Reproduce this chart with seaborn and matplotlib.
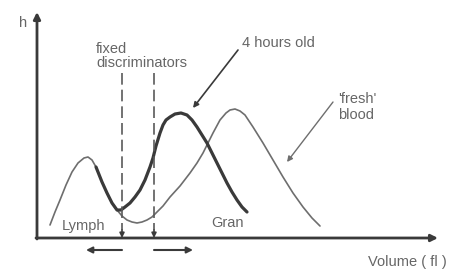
import matplotlib
matplotlib.use("Agg")
import matplotlib.pyplot as plt
import seaborn as sns

# curve values (volume, height)
fresh_vol = [50, 55, 60, 66, 72, 78, 84, 88, 92, 96, 102, 107, 112, 117, 122, 127, 132, 137, 142,
             147, 152, 157, 163, 170, 180, 190, 197, 203, 208, 213, 220, 226, 230, 235, 240, 245,
             253, 263, 273, 283, 293, 303, 312, 320]
fresh_h = [13, 26, 38, 53, 66, 75, 80, 81, 78, 71, 56, 45, 35, 28, 22, 18, 16, 15, 16,
           18, 21, 26, 32, 41, 52, 65, 75, 85, 95, 105, 118, 125, 128, 129, 127, 123,
           111, 95, 78, 61, 45, 31, 20, 12]
old_vol = [96, 102, 107, 112, 117, 121, 125, 130, 135, 140, 145, 150, 153, 156, 160, 163, 166,
           170, 175, 181, 187, 192, 197, 202, 207, 212, 217, 222, 227, 232, 237, 242, 247]
old_h = [71, 56, 45, 35, 28, 28, 31, 35, 41, 48, 58, 71, 80, 92, 105, 113, 118,
         121, 124, 125, 123, 118, 111, 103, 95, 85, 75, 65, 55, 46, 38, 31, 26]
disc_vol = [122, 154]

sns.set_style("white")
plt.rcParams["font.family"] = ["Liberation Sans", "DejaVu Sans"]

fig = plt.figure(figsize=(4.49, 2.69), dpi=100)
ax = fig.add_axes([0, 0, 1, 1])
ax.set_xlim(0, 449)
ax.set_ylim(-31, 238)
ax.axis("off")

dark = "#3a3a3a"
grey = "#6e6e6e"
txt = "#666666"

# axes with arrows
ax.annotate("", xy=(37, 226), xytext=(37, -1),
            arrowprops=dict(arrowstyle="-|>", lw=2, color=dark, mutation_scale=10, shrinkA=0, shrinkB=0))
ax.annotate("", xy=(438, 0), xytext=(36, 0),
            arrowprops=dict(arrowstyle="-|>", lw=2, color=dark, mutation_scale=10, shrinkA=0, shrinkB=0))

# curves
sns.lineplot(x=fresh_vol, y=fresh_h, ax=ax, color=grey, lw=1.2)
sns.lineplot(x=old_vol, y=old_h, ax=ax, color=dark, lw=2.3)

# fixed discriminators
for xv in disc_vol:
    ax.plot([xv, xv], [165, 8], color="#5a5a5a", lw=1.2, dashes=(7, 3))
    ax.annotate("", xy=(xv, 0), xytext=(xv, 8),
                arrowprops=dict(arrowstyle="-|>", lw=1.2, color=dark, mutation_scale=7, shrinkA=0, shrinkB=0))
ax.annotate("", xy=(86, -12), xytext=(disc_vol[0], -12),
            arrowprops=dict(arrowstyle="-|>", lw=1.5, color=dark, mutation_scale=9, shrinkA=0, shrinkB=0))
ax.annotate("", xy=(193, -12), xytext=(disc_vol[1], -12),
            arrowprops=dict(arrowstyle="-|>", lw=1.5, color=dark, mutation_scale=9, shrinkA=0, shrinkB=0))

# pointer arrows
ax.annotate("", xy=(193, 130), xytext=(238, 188),
            arrowprops=dict(arrowstyle="-|>", lw=1.2, color=dark, mutation_scale=8, shrinkA=0, shrinkB=0))
ax.annotate("", xy=(287, 76), xytext=(333, 136),
            arrowprops=dict(arrowstyle="-|>", lw=1.0, color=grey, mutation_scale=8, shrinkA=0, shrinkB=0))

# labels
fs = 10.5
ax.text(23, 215, "h", fontsize=fs, color=txt, ha="center", va="center")
ax.text(96, 182, "fixed\ndiscriminators", fontsize=fs, color=txt, ha="left", va="center", linespacing=1.05)
ax.text(242, 195, "4 hours old", fontsize=fs, color=txt, ha="left", va="center")
ax.text(338, 131, "'fresh'\nblood", fontsize=fs, color=txt, ha="left", va="center", linespacing=1.15)
ax.text(62, 12, "Lymph", fontsize=fs, color=txt, ha="left", va="center")
ax.text(211, 15, "Gran", fontsize=fs, color=txt, ha="left", va="center")
ax.text(368, -24, "Volume ( fl )", fontsize=fs, color=txt, ha="left", va="center")

fig.savefig("out.png", dpi=100)
